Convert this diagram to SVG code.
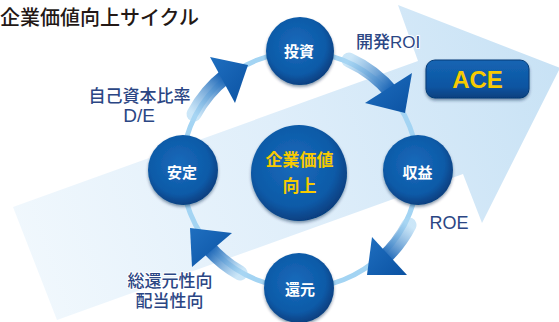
<svg xmlns="http://www.w3.org/2000/svg" width="559" height="322" viewBox="0 0 559 322">
<defs>
<style>
.lbl{font-family:"Liberation Sans","Noto Sans CJK JP",sans-serif;fill:#2b4684;font-weight:500;stroke:#ffffff;stroke-width:2;paint-order:stroke;stroke-linejoin:round}
.node-t{font-family:"Noto Sans CJK JP",sans-serif;fill:#ffffff;font-weight:bold;font-size:15px;text-anchor:middle}
.core-t{font-family:"Noto Sans CJK JP",sans-serif;fill:#f7ca00;font-weight:bold;font-size:17px;text-anchor:middle}
.node{fill:url(#ball);filter:url(#sh)}
.shaft{fill:none;stroke-width:15;stroke-linecap:round}
.head{fill:url(#headg)}
</style>
<linearGradient id="bigarrow" x1="13" y1="260" x2="560" y2="70" gradientUnits="userSpaceOnUse">
<stop offset="0" stop-color="#f1f8fd"/>
<stop offset="0.5" stop-color="#dfeefa"/>
<stop offset="1" stop-color="#c8e2f5"/>
</linearGradient>
<radialGradient id="ball" cx="0.45" cy="0.42" r="0.6">
<stop offset="0" stop-color="#1a6abb"/>
<stop offset="0.72" stop-color="#0c5aa7"/>
<stop offset="1" stop-color="#063c7c"/>
</radialGradient>
<linearGradient id="headg" x1="0" y1="0" x2="1" y2="1">
<stop offset="0" stop-color="#1f6fc0"/>
<stop offset="1" stop-color="#0b52a2"/>
</linearGradient>
<linearGradient id="aceg" x1="0" y1="0" x2="0" y2="1">
<stop offset="0" stop-color="#1565b3"/>
<stop offset="0.7" stop-color="#0c55a2"/>
<stop offset="1" stop-color="#07407f"/>
</linearGradient>
<linearGradient id="s1" x1="194" y1="114" x2="224" y2="78" gradientUnits="userSpaceOnUse">
<stop offset="0" stop-color="#a9d6f3" stop-opacity="0.6"/>
<stop offset="1" stop-color="#1a64b5"/>
</linearGradient>
<linearGradient id="s2" x1="349" y1="60" x2="390" y2="90" gradientUnits="userSpaceOnUse">
<stop offset="0" stop-color="#a9d6f3" stop-opacity="0.6"/>
<stop offset="1" stop-color="#1a64b5"/>
</linearGradient>
<linearGradient id="s3" x1="409" y1="225" x2="385" y2="257" gradientUnits="userSpaceOnUse">
<stop offset="0" stop-color="#a9d6f3" stop-opacity="0.6"/>
<stop offset="1" stop-color="#1a64b5"/>
</linearGradient>
<linearGradient id="s4" x1="240" y1="273" x2="210" y2="249" gradientUnits="userSpaceOnUse">
<stop offset="0" stop-color="#a9d6f3" stop-opacity="0.6"/>
<stop offset="1" stop-color="#1a64b5"/>
</linearGradient>
<filter id="sh" x="-20%" y="-20%" width="140%" height="150%">
<feDropShadow dx="0" dy="2" stdDeviation="1.5" flood-color="#00204a" flood-opacity="0.45"/>
</filter>
</defs>

<rect width="559" height="322" fill="#ffffff"/>

<g id="background-arrow">
<polygon points="13,207 418,61 398,5 560,68 482,223 463,174 57,320" fill="url(#bigarrow)"/>
</g>

<text x="0" y="25" font-family="Noto Sans CJK JP, sans-serif" font-size="20" font-weight="500" fill="#231815">企業価値向上サイクル</text>

<g id="connectors">
<circle cx="300" cy="170" r="118" fill="none" stroke="#a3d4f3" stroke-width="5"/>
<g id="arrow-stable-invest">
<path class="shaft" d="M194,114 A120,120 0 0 1 226,76" stroke="url(#s1)"/>
<polygon class="head" points="210,57 248,65 235,103"/>
</g>
<g id="arrow-invest-profit">
<path class="shaft" d="M349,60 A120,120 0 0 1 392,93" stroke="url(#s2)"/>
<polygon class="head" points="412,73 405,113 365,103"/>
</g>
<g id="arrow-profit-return">
<path class="shaft" d="M409,225 A122,122 0 0 1 383,259" stroke="url(#s3)"/>
<polygon class="head" points="372,237 407,275 367,275"/>
</g>
<g id="arrow-return-stable">
<path class="shaft" d="M240,273 A120,120 0 0 1 208,247" stroke="url(#s4)"/>
<polygon class="head" points="232,233 192,267 190,228"/>
</g>
</g>

<g id="node-core">
<circle class="node" cx="299" cy="173" r="48"/>
<text class="core-t" x="299.5" y="166">企業価値</text>
<text class="core-t" x="299.5" y="192">向上</text>
</g>
<g id="node-invest">
<circle class="node" cx="300" cy="51" r="34"/>
<text class="node-t" x="299" y="57">投資</text>
</g>
<g id="node-profit">
<circle class="node" cx="418" cy="170" r="35"/>
<text class="node-t" x="417.5" y="178">収益</text>
</g>
<g id="node-return">
<circle class="node" cx="299" cy="288" r="35"/>
<text class="node-t" x="300" y="295">還元</text>
</g>
<g id="node-stable">
<circle class="node" cx="183" cy="170" r="35"/>
<text class="node-t" x="182" y="178">安定</text>
</g>

<g id="node-ace">
<rect x="426" y="60" width="103" height="38" rx="9" fill="url(#aceg)" stroke="#063a76" stroke-width="1" filter="url(#sh)"/>
<text x="477.5" y="88" font-family="Liberation Sans, sans-serif" font-weight="bold" font-size="24" fill="#f7ca00" text-anchor="middle">ACE</text>
</g>

<g id="labels">
<text class="lbl" x="139.5" y="102" font-size="17" text-anchor="middle">自己資本比率</text>
<text class="lbl" x="139" y="122" font-size="19" text-anchor="middle">D/E</text>
<text class="lbl" x="356" y="48" font-size="17">開発ROI</text>
<text class="lbl" x="449" y="229" font-size="18" text-anchor="middle">ROE</text>
<text class="lbl" x="170" y="287" font-size="17" text-anchor="middle">総還元性向</text>
<text class="lbl" x="169.5" y="307" font-size="17" text-anchor="middle">配当性向</text>
</g>
</svg>
